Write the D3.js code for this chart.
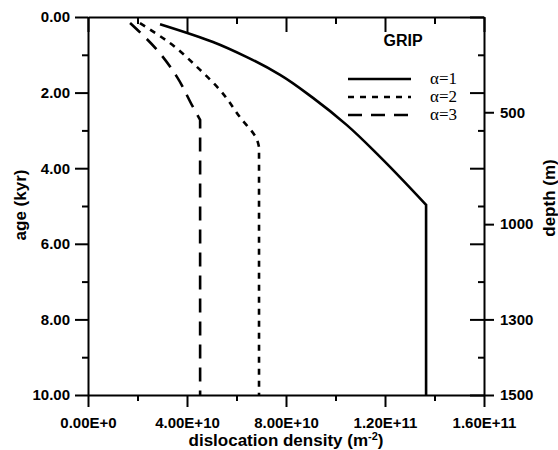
<!DOCTYPE html>
<html>
<head>
<meta charset="utf-8">
<script src="https://cdn.jsdelivr.net/npm/d3@7"></script>
<style>
  body { margin: 0; background: #fff; }
  text { font-family: "Liberation Sans", Arial, sans-serif; font-weight: bold; fill: #000; }
  .axis path, .axis line { stroke: #000; stroke-width: 2px; }
</style>
</head>
<body>
<div id="chart"></div>
<script>
// ---- data ----
const ageTicks = [0, 2, 4, 6, 8, 10];
const ageMinor = [1, 3, 5, 7, 9];
const densityTicks = [0, 4e10, 8e10, 1.2e11, 1.6e11];
const densityLabels = ["0.00E+0", "4.00E+10", "8.00E+10", "1.20E+11", "1.60E+11"];
const densityMinor = [2e10, 6e10, 1e11, 1.4e11];
const depthTicks = [500, 1000, 1300, 1500];
const depthAges = [2.52, 5.48, 8.0, 10.0];   // age (kyr) at which each depth sits

// alpha = 1 (solid)
const a1Density = [2.91e10, 5.05e10, 6.42e10, 7.76e10, 9.09e10, 10.46e10, 11.8e10, 13.66e10, 13.66e10];
const a1Age     = [0.19, 0.66, 1.06, 1.53, 2.14, 2.86, 3.70, 4.97, 10];
// alpha = 2 (dotted)
const a2Density = [2.1e10, 3.31e10, 4.53e10, 5.33e10, 6.14e10, 6.83e10, 6.91e10, 6.91e10];
const a2Age     = [0.16, 0.69, 1.40, 1.93, 2.65, 3.25, 3.44, 10];
// alpha = 3 (dashed)
const a3Density = [1.7e10, 2.79e10, 3.6e10, 4.24e10, 4.53e10, 4.53e10];
const a3Age     = [0.16, 0.87, 1.59, 2.38, 2.72, 10];

const seriesNames = ["α=1", "α=2", "α=3"];
const dashes = [null, "6,6", "14,9"];

// ---- layout ----
const W = 558, H = 450;
const margin = {top: 17, right: 74, bottom: 55, left: 88};
const width = W - margin.left - margin.right,
      height = H - margin.top - margin.bottom;

const svg = d3.select("#chart").append("svg")
    .attr("width", W).attr("height", H);
const g = svg.append("g")
    .attr("transform", `translate(${margin.left},${margin.top})`);

const x = d3.scaleLinear().domain([0, 1.6e11]).range([0, width]);
const y = d3.scaleLinear().domain([0, 10]).range([0, height]);

// left axis
g.append("g").attr("class", "axis")
  .call(d3.axisLeft(y).tickValues(ageTicks).tickSize(13).tickSizeOuter(0).tickPadding(5).tickFormat(d3.format(".2f")))
  .call(a => a.selectAll("text").style("font-size", "15px").style("font-family", null));
g.append("g").attr("class", "axis")
  .call(d3.axisLeft(y).tickValues(ageMinor).tickSize(6).tickSizeOuter(0).tickFormat(""))
  .call(a => a.select(".domain").remove());

// bottom axis
g.append("g").attr("class", "axis")
  .attr("transform", `translate(0,${height})`)
  .call(d3.axisBottom(x).tickValues(densityTicks).tickSize(12).tickSizeOuter(0).tickPadding(10)
        .tickFormat((d, i) => densityLabels[i]))
  .call(a => a.selectAll("text").style("font-size", "15px").style("font-family", null));
g.append("g").attr("class", "axis")
  .attr("transform", `translate(0,${height})`)
  .call(d3.axisBottom(x).tickValues(densityMinor).tickSize(6).tickSizeOuter(0).tickFormat(""))
  .call(a => a.select(".domain").remove());

// top axis (ticks inward)
g.append("g").attr("class", "axis")
  .call(d3.axisTop(x).tickValues(densityTicks).tickSize(-15).tickSizeOuter(0).tickFormat(""));
g.append("g").attr("class", "axis")
  .call(d3.axisTop(x).tickValues(densityMinor).tickSize(-7).tickSizeOuter(0).tickFormat(""))
  .call(a => a.select(".domain").remove());

// right axis: age ticks inward, depth ticks outward
g.append("g").attr("class", "axis")
  .attr("transform", `translate(${width},0)`)
  .call(d3.axisRight(y).tickValues(ageTicks).tickSize(-14).tickSizeOuter(0).tickFormat(""));
g.append("g").attr("class", "axis")
  .attr("transform", `translate(${width},0)`)
  .call(d3.axisRight(y).tickValues(ageMinor).tickSize(-6).tickSizeOuter(0).tickFormat(""))
  .call(a => a.select(".domain").remove());
g.append("g").attr("class", "axis")
  .attr("transform", `translate(${width},0)`)
  .call(d3.axisRight(y).tickValues(depthAges).tickSize(10).tickSizeOuter(0).tickPadding(6)
        .tickFormat((d, i) => depthTicks[i]))
  .call(a => a.select(".domain").remove())
  .call(a => a.selectAll("text").style("font-size", "15px").style("font-family", null));

// axis titles
svg.append("text")
  .attr("transform", `translate(26,205) rotate(-90)`)
  .attr("text-anchor", "middle")
  .style("font-size", "17px")
  .text("age (kyr)");

svg.append("text")
  .attr("transform", `translate(555,198) rotate(-90)`)
  .attr("text-anchor", "middle")
  .style("font-size", "17px")
  .text("depth (m)");

const xl = svg.append("text")
  .attr("x", margin.left + width / 2)
  .attr("y", 446)
  .attr("text-anchor", "middle")
  .style("font-size", "17px")
  .text("dislocation density (m");
xl.append("tspan").attr("dy", -6).style("font-size", "11px").text("-2");
xl.append("tspan").attr("dy", 6).text(")");

// curves: smooth part then vertical drop
const curve = d3.line().x(d => x(d[0])).y(d => y(d[1])).curve(d3.curveMonotoneY);
const series = [[a1Density, a1Age], [a2Density, a2Age], [a3Density, a3Age]];
series.forEach(([dens, age], i) => {
  const pts = dens.map((v, j) => [v, age[j]]);
  const last = pts[pts.length - 1];
  const path = curve(pts.slice(0, -1)) + `L${x(last[0])},${y(last[1])}`;
  g.append("path")
    .attr("d", path)
    .attr("fill", "none")
    .attr("stroke", "#000")
    .attr("stroke-width", 2.6)
    .attr("stroke-dasharray", dashes[i]);
});

// legend
svg.append("text")
  .attr("x", 403).attr("y", 46)
  .attr("text-anchor", "middle")
  .style("font-size", "16px")
  .text("GRIP");

const leg = svg.append("g");
seriesNames.forEach((name, i) => {
  const ly = 79 + i * 18;
  leg.append("line")
    .attr("x1", 348).attr("x2", 411)
    .attr("y1", ly).attr("y2", ly)
    .attr("stroke", "#000").attr("stroke-width", 2.6)
    .attr("stroke-dasharray", dashes[i]);
  leg.append("text")
    .attr("x", 430).attr("y", ly + 5)
    .style("font-family", "'Liberation Serif', 'Times New Roman', serif")
    .style("font-weight", "normal")
    .style("font-size", "17px")
    .text(name);
});
</script>
</body>
</html>
